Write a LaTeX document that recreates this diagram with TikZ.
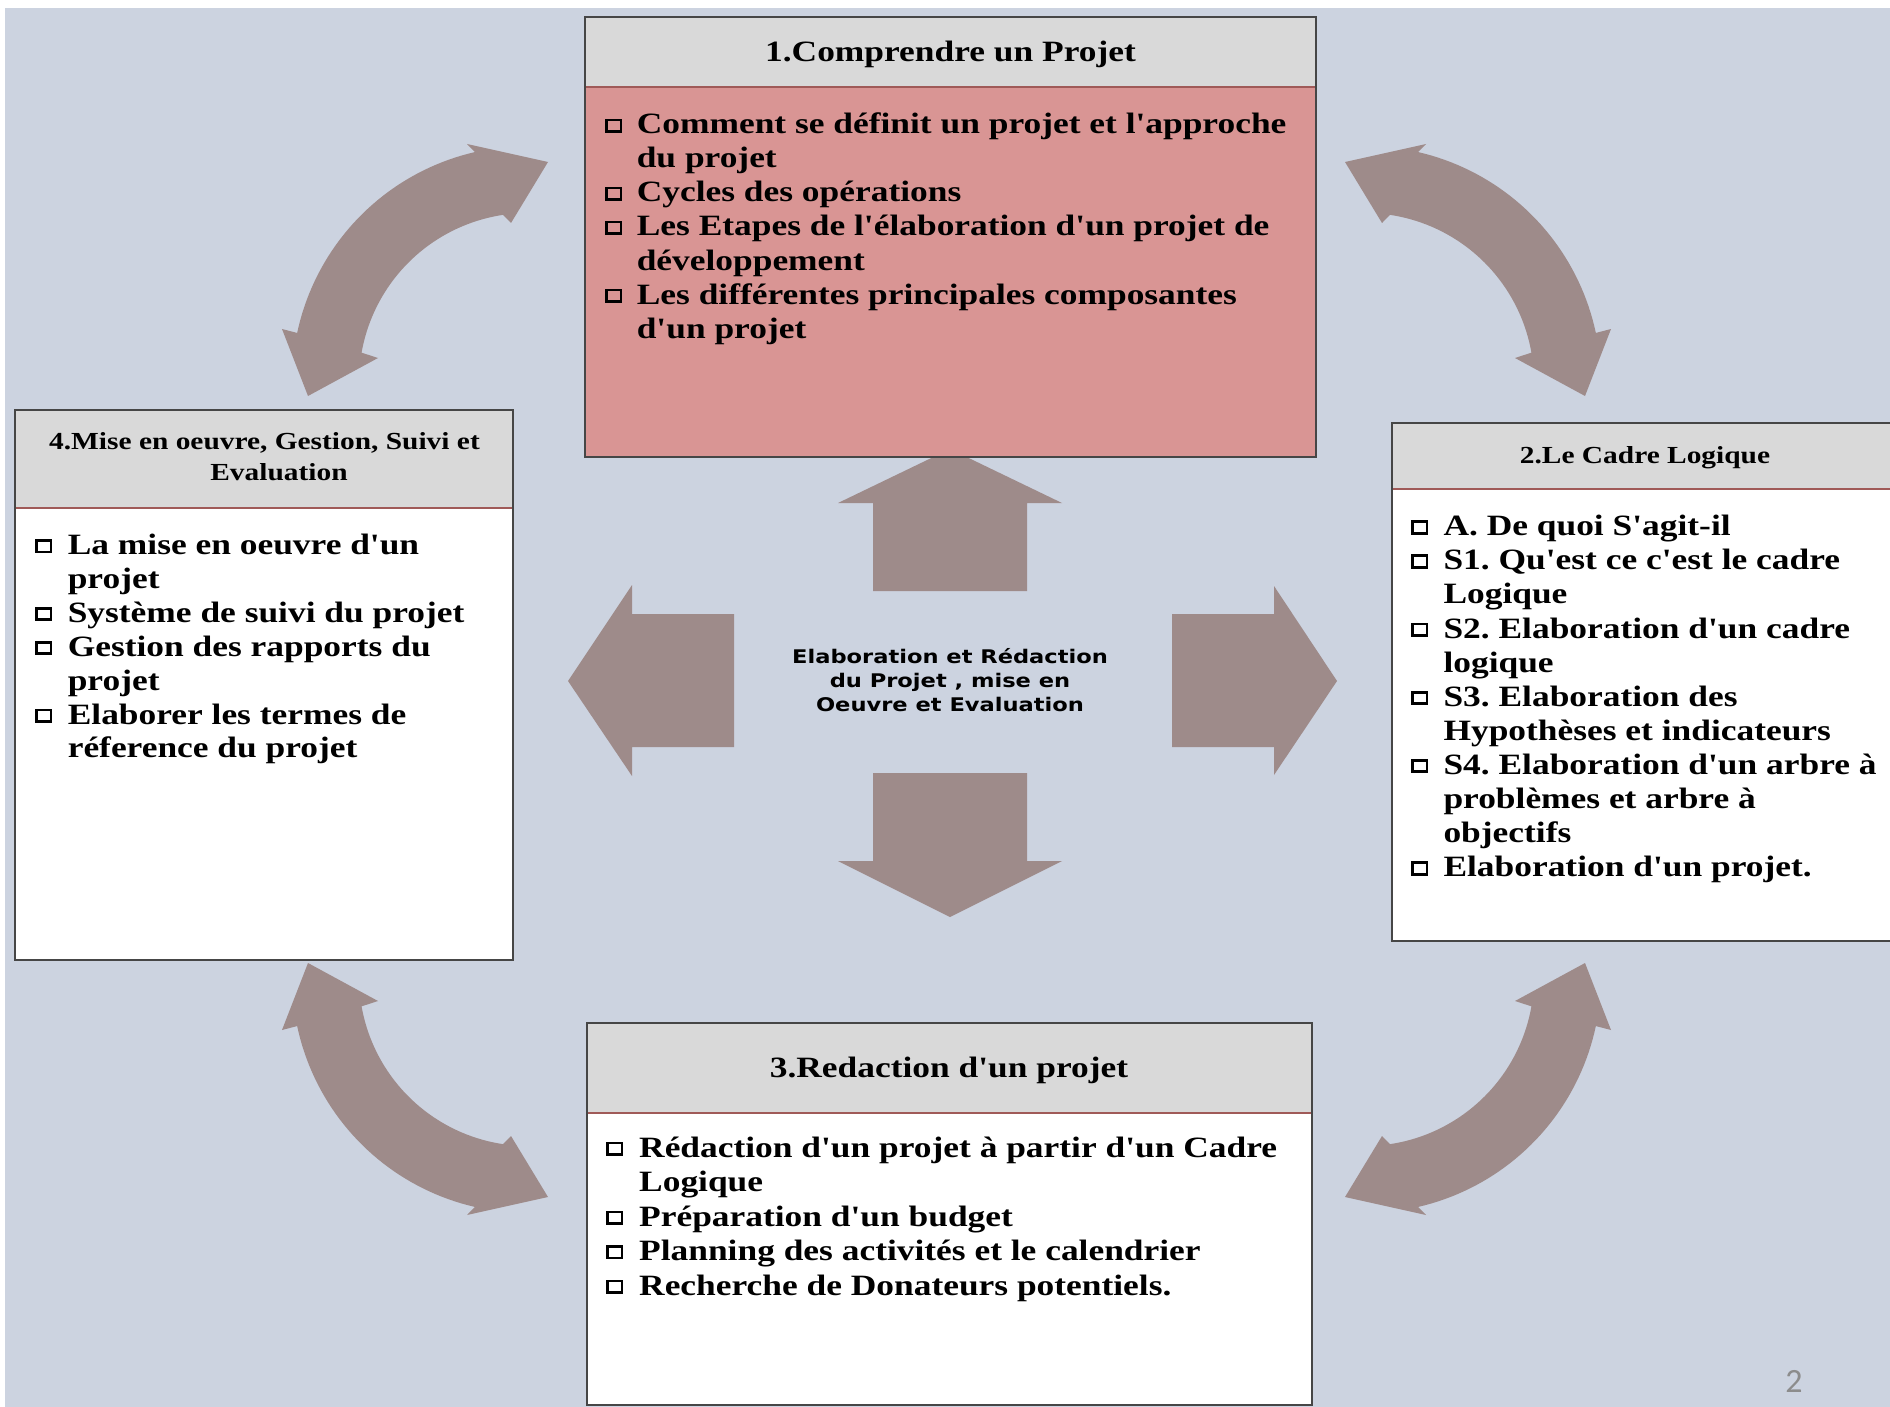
\documentclass[tikz,border=0pt]{standalone}
\usepackage{fontspec}
\newfontfamily\srf[FakeStretch=1.2,Ligatures=TeXOff]{Liberation Serif}
\newfontfamily\snb[FakeStretch=1.2]{DejaVu Sans}
\newfontfamily\pnumfont{Carlito}
\frenchspacing
\definecolor{bgc}{RGB}{204,211,224}
\definecolor{hdrc}{RGB}{217,217,217}
\definecolor{pinkc}{RGB}{217,149,148}
\definecolor{arwc}{RGB}{158,139,138}
\definecolor{framec}{RGB}{70,70,70}
\definecolor{sepc}{RGB}{160,90,88}
\definecolor{pgc}{RGB}{140,140,140}
\tikzset{
  itm/.style={anchor=base west, inner sep=0pt, font=\srf\bfseries\fontsize{29.5}{34}\selectfont},
  ttl/.style={anchor=base, inner sep=0pt, font=\srf\bfseries\fontsize{29.5}{34}\selectfont},
  sttl/.style={anchor=base, inner sep=0pt, font=\srf\bfseries\fontsize{24.5}{30}\selectfont},
  ctr/.style={anchor=base, inner sep=0pt, font=\snb\bfseries\fontsize{18.8}{24}\selectfont},
  panel/.style={rectangle, inner sep=0pt, outer sep=0pt, anchor=north west},
  frame/.style={draw=framec, line width=1.5},
  sepline/.style={draw=sepc, line width=1.5},
  arw/.style={fill=arwc},
  bulst/.style={draw=black, line width=2.8},
}
\newcommand\bul[2]{\draw[bulst] ({#1+1.4},{#2-2.6}) rectangle ++(14.6,-11.4);}
\newcommand\curvarrow{%
  \fill[arw] (282,329) -- plot[domain=192:257, samples=40] ({528+236*cos(\x)},{382+236*sin(\x)})
    -- (467,144) -- (548,162) -- (511,223)
    -- plot[domain=261.5:190, samples=40] ({528+169*cos(\x)},{382+169*sin(\x)})
    -- (378,358) -- (308,396) -- cycle;}
\begin{document}
\begin{tikzpicture}[x=1pt,y=-1pt]
\useasboundingbox (0,0) rectangle (1890,1407);
\clip (0,0) rectangle (1890,1407);
\fill[white] (0,0) rectangle (1890,1407);
\fill[bgc] (5,8) rectangle (1895,1410);

% curved double arrows
\curvarrow
\begin{scope}[shift={(1893,0)},xscale=-1]\curvarrow\end{scope}
\begin{scope}[shift={(0,1359)},yscale=-1]\curvarrow\end{scope}
\begin{scope}[shift={(1893,1359)},xscale=-1,yscale=-1]\curvarrow\end{scope}

% central block arrows
\fill[arw] (873,591) -- (873,503) -- (838,503) -- (950,449) -- (1062,503) -- (1027,503) -- (1027,591) -- cycle;
\fill[arw] (873,773) -- (873,861) -- (838,861) -- (950,917) -- (1062,861) -- (1027,861) -- (1027,773) -- cycle;
\fill[arw] (734,614) -- (632,614) -- (632,585) -- (568,681) -- (632,776) -- (632,747) -- (734,747) -- cycle;
\fill[arw] (1172,614) -- (1274,614) -- (1274,586) -- (1337,681) -- (1274,775) -- (1274,747) -- (1172,747) -- cycle;

% ---- Box 1
\node[panel, fill=hdrc, minimum width=731, minimum height=70] (b1h) at (585,17) {};
\node[panel, fill=pinkc, minimum width=731, minimum height=370] (b1) at (585,87) {};
\draw[sepline] (b1h.south west) -- (b1h.south east);
\draw[frame] (b1h.north west) rectangle (b1.south east);
\node[ttl] (t1) at (950.5,61.7) {1.Comprendre un Projet};
\bul{605}{134}\node[itm] (t1a) at (636.6,134) {Comment se définit un projet et l'approche};
\node[itm] (t1b) at (636.6,168) {du projet};
\bul{605}{202}\node[itm] (t1c) at (636.6,202) {Cycles des opérations};
\bul{605}{236}\node[itm] (t1d) at (636.6,236) {Les Etapes de l'élaboration d'un projet de};
\node[itm] (t1e) at (636.6,270) {développement};
\bul{605}{304}\node[itm] (t1f) at (636.6,304) {Les différentes principales composantes};
\node[itm] (t1g) at (636.6,338) {d'un projet};

% ---- Box 2
\node[panel, fill=hdrc, minimum width=510, minimum height=66] (b2h) at (1392,423) {};
\node[panel, fill=white, minimum width=510, minimum height=452] (b2) at (1392,489) {};
\draw[sepline] (b2h.south west) -- (b2h.south east);
\draw[frame] (b2h.north west) rectangle (b2.south east);
\node[sttl] (t2) at (1645,463.4) {2.Le Cadre Logique};
\bul{1411}{535.7}\node[itm] (t2a) at (1443.3,535.7) {A. De quoi S'agit-il};
\bul{1411}{569.8}\node[itm] (t2b) at (1443.3,569.8) {S1. Qu'est ce c'est le cadre};
\node[itm] (t2c) at (1443.3,603.9) {Logique};
\bul{1411}{638.0}\node[itm] (t2d) at (1443.3,638.0) {S2. Elaboration d'un cadre};
\node[itm] (t2e) at (1443.3,672.1) {logique};
\bul{1411}{706.2}\node[itm] (t2f) at (1443.3,706.2) {S3. Elaboration des};
\node[itm] (t2g) at (1443.3,740.3) {Hypothèses et indicateurs};
\bul{1411}{774.4}\node[itm] (t2h) at (1443.3,774.4) {S4. Elaboration d'un arbre à};
\node[itm] (t2i) at (1443.3,808.5) {problèmes et arbre à};
\node[itm] (t2j) at (1443.3,842.6) {objectifs};
\bul{1411}{876.7}\node[itm] (t2k) at (1443.3,876.7) {Elaboration d'un projet.};

% ---- Box 4
\node[panel, fill=hdrc, minimum width=498, minimum height=98] (b4h) at (15,410) {};
\node[panel, fill=white, minimum width=498, minimum height=452] (b4) at (15,508) {};
\draw[sepline] (b4h.south west) -- (b4h.south east);
\draw[frame] (b4h.north west) rectangle (b4.south east);
\node[sttl] (t4) at (264.5,449.8) {4.Mise en oeuvre, Gestion, Suivi et};
\node[sttl] (t4b) at (279,480.7) {Evaluation};
\bul{35}{554.5}\node[itm] (t4c) at (67.6,554.5) {La mise en oeuvre d'un};
\node[itm] (t4d) at (67.6,588.4) {projet};
\bul{35}{622.3}\node[itm] (t4e) at (67.6,622.3) {Système de suivi du projet};
\bul{35}{656.2}\node[itm] (t4f) at (67.6,656.2) {Gestion des rapports du};
\node[itm] (t4g) at (67.6,690.1) {projet};
\bul{35}{724.0}\node[itm] (t4h) at (67.6,724.0) {Elaborer les termes de};
\node[itm] (t4i) at (67.6,757.9) {réference du projet};

% ---- Box 3
\node[panel, fill=hdrc, minimum width=725, minimum height=90] (b3h) at (587,1023) {};
\node[panel, fill=white, minimum width=725, minimum height=292] (b3) at (587,1113) {};
\draw[sepline] (b3h.south west) -- (b3h.south east);
\draw[frame] (b3h.north west) rectangle (b3.south east);
\node[ttl] (t3) at (949,1077) {3.Redaction d'un projet};
\bul{606}{1157}\node[itm] (t3a) at (639,1157) {Rédaction d'un projet à partir d'un Cadre};
\node[itm] (t3b) at (639,1191.5) {Logique};
\bul{606}{1226}\node[itm] (t3c) at (639,1226) {Préparation d'un budget};
\bul{606}{1260.5}\node[itm] (t3d) at (639,1260.5) {Planning des activités et le calendrier};
\bul{606}{1295}\node[itm] (t3e) at (639,1295) {Recherche de Donateurs potentiels.};

% ---- centre text
\node[ctr] (c1) at (950,663) {Elaboration et Rédaction};
\node[ctr] (c2) at (950,687) {du Projet , mise en};
\node[ctr] (c3) at (950,711) {Oeuvre et Evaluation};

% page number
\node[anchor=base, inner sep=0pt, text=pgc, font=\pnumfont\fontsize{34}{40}\selectfont] (pg) at (1794,1392) {2};
\end{tikzpicture}
\end{document}
